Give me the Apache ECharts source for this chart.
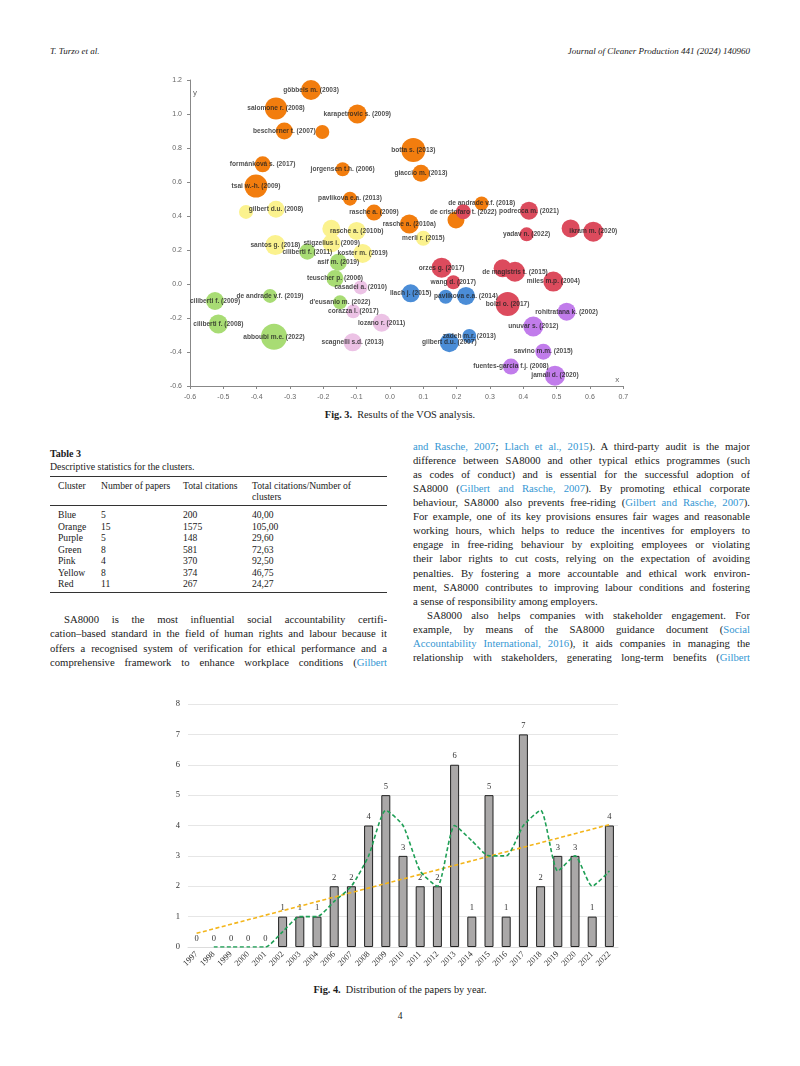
<!DOCTYPE html>
<html>
<head>
<meta charset="utf-8">
<script src="https://cdn.jsdelivr.net/npm/echarts@6.0.0/dist/echarts.min.js"></script>
<style>
  body { margin: 0; background: #fff; }
  .page { position: relative; width: 800px; height: 1066px; overflow: hidden; font-family: "Liberation Serif", serif; color: #1a1a1a; }
  .abs { position: absolute; }
  .hdr { font-style: italic; font-size: 9px; top: 46px; }
  .cap { font-size: 10.3px; width: 800px; text-align: center; }
  .ln { position: absolute; width: 337px; height: 14px; line-height: 14px; font-size: 10.7px; overflow: hidden;
        text-align: justify; text-align-last: justify; }
  .ln.last { text-align-last: left; }
  .ind { text-indent: 14px; }
  a { color: #3597d3; text-decoration: none; }
  .tb { position: absolute; font-size: 9.6px; line-height: 11px; }
  .rule { position: absolute; left: 50px; width: 337px; height: 0; border-top: 1px solid #333; }
  #vos { position: absolute; left: 0; top: 0; width: 800px; height: 405px; }
  #years { position: absolute; left: 0; top: 690px; width: 800px; height: 290px; }
</style>
</head>
<body>
<div class="page">
  <div class="abs hdr" style="left:50px;">T. Turzo et al.</div>
  <div class="abs hdr" style="right:50px;">Journal of Cleaner Production 441 (2024) 140960</div>

  <div id="vos"></div>
  <div class="abs cap" style="top:409px;"><b>Fig. 3.</b>&nbsp; Results of the VOS analysis.</div>

  <!-- Table 3 -->
  <div class="tb" style="left:50px; top:448px; font-weight:bold; font-size:10px;">Table 3</div>
  <div class="tb" style="left:50px; top:461px; font-size:9.8px;">Descriptive statistics for the clusters.</div>
  <div class="rule" style="top:476px;"></div>
  <div class="tb" style="left:58px; top:480px;">Cluster</div>
  <div class="tb" style="left:101px; top:480px;">Number of papers</div>
  <div class="tb" style="left:183px; top:480px;">Total citations</div>
  <div class="tb" style="left:252px; top:480px;">Total citations/Number of<br>clusters</div>
  <div class="rule" style="top:505px;"></div>
  <div id="tbody"></div>
  <div class="rule" style="top:592px;"></div>

  <!-- left column text -->
  <div class="ln ind" style="left:50px; top:612px;">SA8000 is the most influential social accountability certifi-</div>
  <div class="ln" style="left:50px; top:626px;">cation–based standard in the field of human rights and labour because it</div>
  <div class="ln" style="left:50px; top:641px;">offers a recognised system of verification for ethical performance and a</div>
  <div class="ln" style="left:50px; top:655px;">comprehensive framework to enhance workplace conditions (<a>Gilbert</a></div>

  <!-- right column text -->
  <div class="ln" style="left:413px; top:439px;"><a>and Rasche, 2007</a>; <a>Llach et al., 2015</a>). A third-party audit is the major</div>
  <div class="ln" style="left:413px; top:453px;">difference between SA8000 and other typical ethics programmes (such</div>
  <div class="ln" style="left:413px; top:467px;">as codes of conduct) and is essential for the successful adoption of</div>
  <div class="ln" style="left:413px; top:481px;">SA8000 (<a>Gilbert and Rasche, 2007</a>). By promoting ethical corporate</div>
  <div class="ln" style="left:413px; top:495px;">behaviour, SA8000 also prevents free-riding (<a>Gilbert and Rasche, 2007</a>).</div>
  <div class="ln" style="left:413px; top:509px;">For example, one of its key provisions ensures fair wages and reasonable</div>
  <div class="ln" style="left:413px; top:523px;">working hours, which helps to reduce the incentives for employers to</div>
  <div class="ln" style="left:413px; top:537px;">engage in free-riding behaviour by exploiting employees or violating</div>
  <div class="ln" style="left:413px; top:551px;">their labor rights to cut costs, relying on the expectation of avoiding</div>
  <div class="ln" style="left:413px; top:566px;">penalties. By fostering a more accountable and ethical work environ-</div>
  <div class="ln" style="left:413px; top:580px;">ment, SA8000 contributes to improving labour conditions and fostering</div>
  <div class="ln last" style="left:413px; top:594px;">a sense of responsibility among employers.</div>
  <div class="ln ind" style="left:413px; top:608px;">SA8000 also helps companies with stakeholder engagement. For</div>
  <div class="ln" style="left:413px; top:622px;">example, by means of the SA8000 guidance document (<a>Social</a></div>
  <div class="ln" style="left:413px; top:636px;"><a>Accountability International, 2016</a>), it aids companies in managing the</div>
  <div class="ln" style="left:413px; top:650px;">relationship with stakeholders, generating long-term benefits (<a>Gilbert</a></div>

  <div id="years"></div>
  <div class="abs cap" style="top:984px;"><b>Fig. 4.</b>&nbsp; Distribution of the papers by year.</div>
  <div class="abs cap" style="top:1011px; font-size:9.5px;">4</div>
</div>

<script>
// ---------- Fig. 3 VOS map: [label, x, y, weight] ----------
const orangeCluster = [
  ['göbbels m. (2003)', -0.237, 1.141, 10],
  ['salomone r. (2008)', -0.342, 1.033, 11],
  ['karapetrovic s. (2009)', -0.098, 1.0, 9.5],
  ['beschorner t. (2007)', -0.317, 0.9, 8.5],
  ['', -0.203, 0.894, 7],
  ['formánková s. (2017)', -0.382, 0.704, 8],
  ['jorgensen t.h. (2006)', -0.142, 0.675, 7],
  ['tsai w.-h. (2009)', -0.402, 0.576, 11.5],
  ['pavlikova e.a. (2013)', -0.12, 0.502, 7],
  ['rasche a. (2009)', -0.048, 0.42, 8],
  ['botta s. (2013)', 0.07, 0.788, 12],
  ['giaccio m. (2013)', 0.093, 0.651, 8.5],
  ['de andrade v.f. (2018)', 0.275, 0.474, 7],
  ['', 0.198, 0.376, 8.5],
  ['rasche a. (2010a)', 0.058, 0.353, 9.5]
];
const yellowCluster = [
  ['gilbert d.u. (2008)', -0.342, 0.44, 8.5],
  ['', -0.432, 0.424, 7],
  ['rasche a. (2010b)', -0.1, 0.312, 9],
  ['', -0.176, 0.325, 9],
  ['santos g. (2018)', -0.344, 0.229, 10],
  ['stigzelius i. (2009)', -0.175, 0.24, 9],
  ['koster m. (2019)', -0.082, 0.18, 9.5],
  ['merli r. (2015)', 0.1, 0.269, 7.5]
];
const greenCluster = [
  ['ciliberti f. (2011)', -0.248, 0.19, 8],
  ['asif m. (2019)', -0.155, 0.128, 8.5],
  ['teuscher p. (2006)', -0.165, 0.033, 8.5],
  ['ciliberti f. (2009)', -0.525, -0.1, 9],
  ['de andrade v.f. (2019)', -0.36, -0.07, 7],
  ["d'eusanio m. (2022)", -0.15, -0.108, 7],
  ['ciliberti f. (2008)', -0.515, -0.235, 9.5],
  ['abboubi m.e. (2022)', -0.348, -0.31, 13]
];
const pinkCluster = [
  ['casadei a. (2010)', -0.088, -0.02, 7],
  ['corazza l. (2017)', -0.11, -0.161, 7],
  ['lozano r. (2011)', -0.025, -0.228, 9],
  ['scagnelli s.d. (2013)', -0.112, -0.343, 9]
];
const redCluster = [
  ['de cristofaro t. (2022)', 0.22, 0.425, 7.5],
  ['podrecca m. (2021)', 0.417, 0.431, 9],
  ['yadav n. (2022)', 0.41, 0.292, 7],
  ['', 0.542, 0.327, 9],
  ['ikram m. (2020)', 0.61, 0.308, 10],
  ['orzes g. (2017)', 0.155, 0.096, 10],
  ['', 0.338, 0.092, 9],
  ['de magistris t. (2015)', 0.375, 0.072, 10],
  ['wang d. (2017)', 0.19, 0.01, 7],
  ['miles m.p. (2004)', 0.49, 0.014, 10],
  ['bolzi o. (2017)', 0.353, -0.118, 12]
];
const blueCluster = [
  ['llach j. (2015)', 0.062, -0.055, 9],
  ['', 0.167, -0.075, 7],
  ['pavlikova e.a. (2014)', 0.228, -0.07, 9],
  ['zadeh m.r. (2013)', 0.238, -0.306, 7],
  ['gilbert d.u. (2007)', 0.178, -0.345, 9.5]
];
const purpleCluster = [
  ['rohitratana k. (2002)', 0.53, -0.163, 9],
  ['unuvar s. (2012)', 0.43, -0.25, 10],
  ['savino m.m. (2015)', 0.46, -0.398, 8],
  ['fuentes-garcia f.j. (2008)', 0.363, -0.486, 8],
  ['jamali d. (2020)', 0.495, -0.539, 10]
];

// ---------- Fig. 4 papers by year ----------
const years = ['1997', '1998', '1999', '2000', '2001', '2002', '2003', '2004', '2006', '2007', '2008', '2009',
  '2010', '2011', '2012', '2013', '2014', '2015', '2016', '2017', '2018', '2019', '2020', '2021', '2022'];
const papers = [0, 0, 0, 0, 0, 1, 1, 1, 2, 2, 4, 5, 3, 2, 2, 6, 1, 5, 1, 7, 2, 3, 3, 1, 4];
const movingAvg = ['-', 0, 0, 0, 0, 0.5, 1, 1, 1.5, 2, 3, 4.5, 4, 2.5, 2, 4, 3.5, 3, 3, 4, 4.5, 2.5, 3, 2, 2.5];
const trendEnds = [['1997', 0.45], ['2022', 4.03]];
const yTicks = [0, 1, 2, 3, 4, 5, 6, 7, 8];

// ---------- Table 3 ----------
const clusterNames = ['Blue', 'Orange', 'Purple', 'Green', 'Pink', 'Yellow', 'Red'];
const clusterPapers = [5, 15, 5, 8, 4, 8, 11];
const clusterCitations = [200, 1575, 148, 581, 370, 374, 267];
const citationsPerPaper = ['40,00', '105,00', '29,60', '72,63', '92,50', '46,75', '24,27'];

const tbody = document.getElementById('tbody');
const rowTops = [509, 521, 532, 544, 555, 567, 578];
clusterNames.forEach((n, i) => {
  const cells = [n, clusterPapers[i], clusterCitations[i], citationsPerPaper[i]];
  [58, 101, 183, 252].forEach((x, j) => {
    const d = document.createElement('div');
    d.className = 'tb';
    d.style.left = x + 'px';
    d.style.top = rowTops[i] + 'px';
    d.textContent = cells[j];
    tbody.appendChild(d);
  });
});

// 气泡图
const clusters = [
  { data: orangeCluster, color: '#f27d0e' },
  { data: yellowCluster, color: '#fbf28e' },
  { data: greenCluster, color: '#a8dc74' },
  { data: pinkCluster, color: '#ecc2e5' },
  { data: redCluster, color: '#dc4b5d' },
  { data: blueCluster, color: '#4b8dd7' },
  { data: purpleCluster, color: '#c17ceb' }
];
const allPoints = clusters.flatMap(c => c.data);

const vos = echarts.init(document.getElementById('vos'));
const axisStyle = {
  axisLine: { show: true, onZero: false, lineStyle: { color: '#888', width: 1 } },
  axisTick: { show: true, length: 3, lineStyle: { color: '#888' } },
  axisLabel: { color: '#666', fontSize: 7, fontFamily: 'Liberation Sans', formatter: v => v.toFixed(1) },
  splitLine: { show: false }
};
vos.setOption({
  animation: false,
  grid: { left: 190, top: 80, width: 433.3, height: 306 },
  xAxis: {
    type: 'value', min: -0.6, max: 0.7, interval: 0.1, ...axisStyle,
    name: 'x', nameLocation: 'end', nameGap: -4,
    nameTextStyle: { color: '#666', fontSize: 8, fontFamily: 'Liberation Sans', verticalAlign: 'bottom', align: 'right', padding: [0, 0, 2, 0] }
  },
  yAxis: {
    type: 'value', min: -0.6, max: 1.2, interval: 0.2, ...axisStyle,
    name: 'y', nameLocation: 'end', nameGap: -9,
    nameTextStyle: { color: '#666', fontSize: 8, fontFamily: 'Liberation Sans', align: 'left', verticalAlign: 'top', padding: [0, 0, 0, 3] }
  },
  series: [
    ...clusters.map(c => ({
      type: 'scatter',
      data: c.data.map(d => [d[1], d[2], d[3]]),
      symbolSize: v => v[2] * 2,
      itemStyle: { color: c.color, opacity: 1 },
      silent: true
    })),
    {
      type: 'scatter',
      z: 5,
      symbolSize: 0,
      data: allPoints.filter(d => d[0]).map(d => ({ value: [d[1], d[2]], name: d[0] })),
      label: {
        show: true, position: 'inside', formatter: '{b}',
        color: '#222', fontSize: 6.6, fontWeight: 'bold', fontFamily: 'Liberation Sans'
      },
      silent: true
    }
  ]
});

// 柱状图
const yearsChart = echarts.init(document.getElementById('years'));
yearsChart.setOption({
  animation: false,
  grid: { left: 188, top: 14, width: 430, height: 243 },
  xAxis: {
    type: 'category', data: years,
    axisLine: { show: true, lineStyle: { color: '#dcdcdc' } },
    axisTick: { show: false },
    axisLabel: { interval: 0, rotate: 45, fontSize: 8.5, color: '#333', fontFamily: 'Liberation Serif', margin: 6 }
  },
  yAxis: {
    type: 'value', min: yTicks[0], max: yTicks[yTicks.length - 1], interval: 1,
    axisLine: { show: false }, axisTick: { show: false },
    axisLabel: { fontSize: 8.5, color: '#333', fontFamily: 'Liberation Serif', margin: 8 },
    splitLine: { lineStyle: { color: '#e6e6e6' } }
  },
  series: [
    {
      type: 'bar', barWidth: 9,
      // zero-height bars get no outline
      data: papers.map(v => (v === 0 ? { value: v, itemStyle: { borderWidth: 0 } } : v)),
      itemStyle: { color: '#aaa8a8', borderColor: '#222', borderWidth: 1 },
      label: { show: true, position: 'top', distance: 4, fontSize: 8.5, color: '#333', fontFamily: 'Liberation Serif' }
    },
    {
      type: 'line', data: trendEnds, symbol: 'none',
      lineStyle: { color: '#f3b51b', width: 1.6, type: [4, 2.5] }
    },
    {
      type: 'line', data: movingAvg, symbol: 'none', smooth: 0.2,
      lineStyle: { color: '#1e9f55', width: 1.6, type: [4, 2.5] }
    }
  ]
});
</script>
</body>
</html>
